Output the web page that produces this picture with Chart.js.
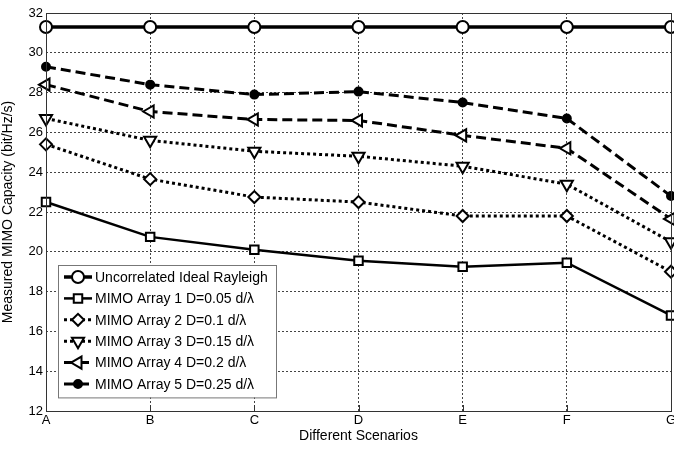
<!DOCTYPE html>
<html>
<head>
<meta charset="utf-8">
<script src="https://cdn.jsdelivr.net/npm/chart.js@4"></script>
<style>
  html, body { margin: 0; padding: 0; background: #fff; overflow: hidden; }
  #wrap { width: 680px; height: 449px; }
</style>
</head>
<body>
<div id="wrap"><canvas id="myChart" width="680" height="449"></canvas></div>
<script>
const scenarios = ['A', 'B', 'C', 'D', 'E', 'F', 'G'];
const rayleigh = [31.3, 31.3, 31.3, 31.3, 31.3, 31.3, 31.3];
const array1 = [22.5, 20.75, 20.1, 19.55, 19.25, 19.45, 16.8];
const array2 = [25.4, 23.65, 22.75, 22.5, 21.8, 21.8, 19.0];
const array3 = [26.7, 25.6, 25.05, 24.8, 24.3, 23.4, 20.5];
const array4 = [28.4, 27.05, 26.65, 26.6, 25.85, 25.2, 21.65];
const array5 = [29.3, 28.4, 27.9, 28.05, 27.5, 26.7, 22.8];

const FONT = 'Arial, "Liberation Sans", sans-serif';

function series(label, values, dash, width, style, rotation, radius, fill) {
  return {
    label: label,
    data: values,
    borderColor: '#000',
    borderWidth: width,
    borderDash: dash,
    pointStyle: style,
    pointRotation: rotation,
    pointRadius: radius,
    pointBorderWidth: 2,
    pointBorderColor: '#000',
    pointBackgroundColor: fill,
    tension: 0,
    fill: false
  };
}

const data = {
  labels: scenarios,
  datasets: [
    series('Uncorrelated Ideal Rayleigh', rayleigh, [], 3.5, 'circle', 0, 6, '#fff'),
    series('MIMO Array 1 D=0.05 d/\u03bb', array1, [], 2.5, 'rect', 0, 6, '#fff'),
    series('MIMO Array 2 D=0.1 d/\u03bb', array2, [3, 3], 3, 'rectRot', 0, 6, '#fff'),
    series('MIMO Array 3 D=0.15 d/\u03bb', array3, [3, 3], 3, 'triangle', 180, 7, '#fff'),
    series('MIMO Array 4 D=0.2 d/\u03bb', array4, [10, 5], 3, 'triangle', 270, 7, '#fff'),
    series('MIMO Array 5 D=0.25 d/\u03bb', array5, [10, 5], 3, 'circle', 0, 4, '#000')
  ]
};

// legend box inside the plot, bottom-left, matlab style
const boxLegend = {
  id: 'boxLegend',
  afterDraw(chart) {
    const ctx = chart.ctx;
    const area = chart.chartArea;
    const x0 = area.left + 12, y0 = 265, w = 218, rowH = 21.4;
    const n = chart.data.datasets.length;
    const h = rowH * n + 4;
    ctx.save();
    ctx.fillStyle = '#fff';
    ctx.fillRect(x0, y0, w, h);
    ctx.strokeStyle = '#777';
    ctx.lineWidth = 1;
    ctx.strokeRect(x0 + 0.5, y0 + 0.5, w, h);
    chart.data.datasets.forEach((ds, i) => {
      const cy = y0 + 12 + i * rowH;
      const lx = x0 + 6, rx = x0 + 34, mx = (lx + rx) / 2;
      ctx.strokeStyle = '#000';
      ctx.lineWidth = ds.borderWidth;
      ctx.setLineDash(ds.borderDash);
      ctx.beginPath();
      ctx.moveTo(lx, cy);
      ctx.lineTo(rx, cy);
      ctx.stroke();
      ctx.setLineDash([]);
      ctx.fillStyle = ds.pointBackgroundColor;
      ctx.strokeStyle = '#000';
      ctx.lineWidth = 2;
      Chart.helpers.drawPoint(ctx, {
        pointStyle: ds.pointStyle,
        radius: ds.pointRadius,
        rotation: ds.pointRotation,
        borderWidth: 2
      }, mx, cy);
      ctx.fillStyle = '#000';
      ctx.font = '14px ' + FONT;
      ctx.textBaseline = 'middle';
      ctx.fillText(ds.label, x0 + 37, cy + 1);
    });
    ctx.restore();
  }
};

// solid frame plus small inward ticks on the bottom axis
const frame = {
  id: 'frame',
  afterDatasetsDraw(chart) {
    const a = chart.chartArea, ctx = chart.ctx;
    const xs = chart.scales.x;
    ctx.save();
    ctx.strokeStyle = '#333';
    ctx.lineWidth = 1;
    ctx.strokeRect(a.left + 0.5, a.top + 0.5, a.right - a.left, a.bottom - a.top);
    ctx.beginPath();
    xs.ticks.forEach((t, i) => {
      const px = Math.round(xs.getPixelForTick(i)) + 0.5;
      ctx.moveTo(px, a.bottom);
      ctx.lineTo(px, a.bottom - 6);
    });
    ctx.stroke();
    ctx.restore();
  }
};

const config = {
  type: 'line',
  data: data,
  options: {
    responsive: false,
    animation: false,
    layout: { padding: { top: 13, right: 0, left: 0, bottom: 0 } },
    plugins: {
      legend: { display: false },
      tooltip: { enabled: false }
    },
    scales: {
      x: {
        offset: false,
        grid: { color: '#444', lineWidth: 1, drawTicks: false },
        border: { display: false, dash: [2, 2] },
        ticks: { color: '#000', font: { family: FONT, size: 13 }, padding: 2, maxRotation: 0 },
        title: { display: true, text: 'Different Scenarios', color: '#000', font: { family: FONT, size: 14 }, padding: { top: 0, bottom: 4 } },
        afterFit(scale) { scale.height = 38; }
      },
      y: {
        min: 12,
        max: 32,
        ticks: { stepSize: 2, color: '#000', font: { family: FONT, size: 13 }, padding: 3 },
        grid: { color: '#444', lineWidth: 1, drawTicks: false },
        border: { display: false, dash: [2, 2] },
        title: { display: true, text: 'Measured MIMO Capacity (bit/Hz/s)', color: '#000', font: { family: FONT, size: 14 }, padding: { top: 0, bottom: 2 } },
        afterFit(scale) { scale.width = 46; }
      }
    }
  },
  plugins: [frame, boxLegend]
};

const myChart = new Chart(document.getElementById('myChart'), config);
</script>
</body>
</html>
